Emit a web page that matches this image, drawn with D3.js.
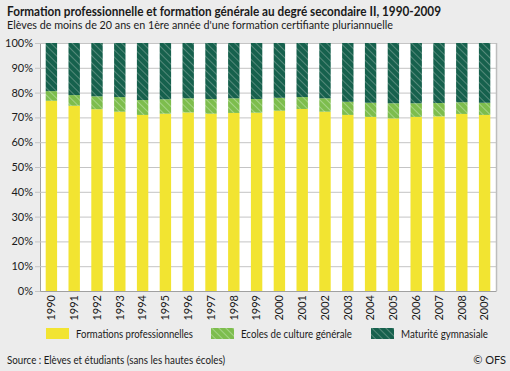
<!DOCTYPE html>
<html>
<head>
<meta charset="utf-8">
<script src="https://cdn.jsdelivr.net/npm/d3@7"></script>
<style>
  body { margin: 0; background: #ececec; }
  svg { display: block; }
  text { font-family: Lato, "Liberation Sans", Arial, sans-serif; fill: #1a1a1a; }
</style>
</head>
<body>
<div id="chart"></div>
<script>
var years = ["1990","1991","1992","1993","1994","1995","1996","1997","1998","1999",
             "2000","2001","2002","2003","2004","2005","2006","2007","2008","2009"];
var formationsPro = [76.7, 74.7, 73.3, 72.3, 71.0, 71.5, 72.0, 71.5, 71.8, 71.9,
                     72.7, 73.4, 72.3, 71.0, 70.2, 69.6, 70.2, 70.4, 71.4, 71.0];
var ecolesCulture = [3.9, 4.3, 5.2, 5.9, 6.0, 5.8, 5.7, 5.9, 5.9, 5.5,
                     5.2, 4.8, 5.4, 5.3, 5.7, 6.1, 5.5, 5.4, 4.7, 4.9];
var maturite = [19.4, 21.0, 21.5, 21.8, 23.0, 22.7, 22.3, 22.6, 22.3, 22.6,
                22.1, 21.8, 22.3, 23.7, 24.1, 24.3, 24.3, 24.2, 23.9, 24.1];
var seriesNames = ["Formations professionnelles", "Ecoles de culture générale", "Maturité gymnasiale"];
var yTicks = [0, 10, 20, 30, 40, 50, 60, 70, 80, 90, 100];

var width = 510, height = 371;
var plotLeft = 40, plotRight = 496, plotTop = 43, plotBottom = 291;

var svg = d3.select("#chart").append("svg")
  .attr("width", width)
  .attr("height", height);

svg.append("rect").attr("width", width).attr("height", height).attr("fill", "#ececec");

// hatch patterns
var defs = svg.append("defs");
function hatch(id, bg, line) {
  var p = defs.append("pattern")
    .attr("id", id)
    .attr("patternUnits", "userSpaceOnUse")
    .attr("width", 5).attr("height", 5)
    .attr("patternTransform", "rotate(-45)");
  p.append("rect").attr("width", 5).attr("height", 5).attr("fill", bg);
  p.append("line").attr("x1", 0.5).attr("y1", 0).attr("x2", 0.5).attr("y2", 5)
    .attr("stroke", line).attr("stroke-width", 0.9);
}
hatch("hGreen", "#7dbd4d", "#a9d68c");
hatch("hDark", "#16614d", "#5e8f80");

var fills = ["#f2e431", "url(#hGreen)", "url(#hDark)"];

// titles
svg.append("text").attr("x", 7).attr("y", 16)
  .attr("font-size", 12.5).attr("font-weight", "bold")
  .attr("textLength", 434).attr("lengthAdjust", "spacingAndGlyphs")
  .text("Formation professionnelle et formation générale au degré secondaire II, 1990-2009");
svg.append("text").attr("x", 7).attr("y", 28.5)
  .attr("font-size", 11)
  .attr("textLength", 386).attr("lengthAdjust", "spacingAndGlyphs")
  .text("Elèves de moins de 20 ans en 1ère année d'une formation certifiante pluriannuelle");

// plot background
svg.append("rect").attr("x", plotLeft).attr("y", plotTop)
  .attr("width", plotRight - plotLeft).attr("height", plotBottom - plotTop).attr("fill", "#ffffff");

var x = d3.scaleBand().domain(years).range([plotLeft, plotRight]).paddingInner(0.5).paddingOuter(0.25);
var y = d3.scaleLinear().domain([0, 100]).range([plotBottom, plotTop]);

// grid + y axis
var yAxis = svg.append("g")
  .attr("transform", "translate(" + plotLeft + ",0)")
  .call(d3.axisLeft(y).tickValues(yTicks).tickSize(5).tickFormat(function (d) { return d + "%"; }));
yAxis.select(".domain").attr("stroke", "#a0a0a0");
yAxis.selectAll(".tick line").attr("stroke", "#c4c4c4");
yAxis.selectAll(".tick text")
  .attr("font-size", 11)
  .attr("font-family", "Lato, Liberation Sans, Arial, sans-serif")
  .attr("fill", "#1a1a1a")
  .attr("x", -7);

svg.append("g").selectAll("line")
  .data(yTicks.filter(function (d) { return d > 0; }))
  .enter().append("line")
  .attr("x1", plotLeft).attr("x2", plotRight)
  .attr("y1", function (d) { return y(d) + 0.5; })
  .attr("y2", function (d) { return y(d) + 0.5; })
  .attr("stroke", "#c4c4c4");

// right border
svg.append("line").attr("x1", plotRight + 0.5).attr("x2", plotRight + 0.5)
  .attr("y1", plotTop).attr("y2", plotBottom).attr("stroke", "#bdbdbd").attr("stroke-width", 1.5);

// stacked bars
var table = years.map(function (yr, i) {
  return { year: yr, s0: formationsPro[i], s1: ecolesCulture[i], s2: maturite[i] };
});
var stack = d3.stack().keys(["s0", "s1", "s2"])(table);

svg.append("g").selectAll("g")
  .data(stack)
  .enter().append("g")
  .attr("fill", function (d, i) { return fills[i]; })
  .selectAll("rect")
  .data(function (d) { return d; })
  .enter().append("rect")
  .attr("x", function (d) { return x(d.data.year); })
  .attr("width", x.bandwidth())
  .attr("y", function (d) { return y(d[1]); })
  .attr("height", function (d) { return y(d[0]) - y(d[1]); });

// x axis
var xAxis = svg.append("g")
  .attr("transform", "translate(0," + plotBottom + ")")
  .call(d3.axisBottom(x).tickSize(0));
xAxis.select(".domain").attr("stroke", "#a0a0a0");
xAxis.selectAll(".tick text")
  .attr("font-size", 11)
  .attr("font-family", "Lato, Liberation Sans, Arial, sans-serif")
  .attr("fill", "#1a1a1a")
  .attr("transform", "rotate(-90)")
  .attr("text-anchor", "end")
  .attr("dy", "0.35em")
  .attr("x", -4)
  .attr("y", 0);

// legend
var legendX = [46, 211, 371];
var legendLen = [117, 111, 87];
var legend = svg.append("g").selectAll("g")
  .data(seriesNames)
  .enter().append("g")
  .attr("transform", function (d, i) { return "translate(" + legendX[i] + ",328)"; });
legend.append("rect").attr("width", 23).attr("height", 11)
  .attr("fill", function (d, i) { return fills[i]; });
legend.append("text").attr("x", 30).attr("y", 9.5)
  .attr("font-size", 11.5)
  .attr("textLength", function (d, i) { return legendLen[i]; })
  .attr("lengthAdjust", "spacingAndGlyphs")
  .text(function (d) { return d; });

// source
svg.append("text").attr("x", 7).attr("y", 363.5).attr("font-size", 11)
  .attr("textLength", 218).attr("lengthAdjust", "spacingAndGlyphs")
  .text("Source : Elèves et étudiants (sans les hautes écoles)");
svg.append("text").attr("x", 506).attr("y", 363.5).attr("font-size", 11)
  .attr("text-anchor", "end").text("© OFS");
</script>
</body>
</html>
